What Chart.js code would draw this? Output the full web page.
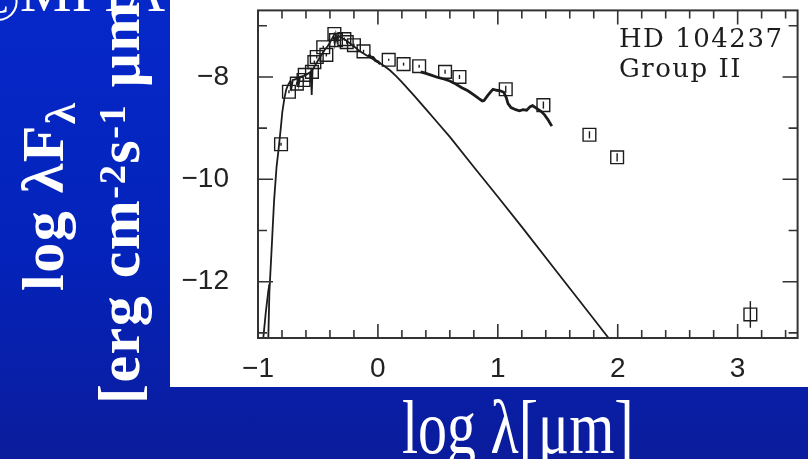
<!DOCTYPE html>
<html>
<head>
<meta charset="utf-8">
<script src="https://cdn.jsdelivr.net/npm/chart.js@4/dist/chart.umd.min.js"></script>
<style>
  html, body { margin: 0; padding: 0; }
  body {
    width: 808px; height: 459px; overflow: hidden; position: relative;
    background: linear-gradient(to bottom, #0628c9 0%, #0423ba 55%, #0b1c9c 100%);
  }
  canvas { position: absolute; left: 0; top: 0; }
  .t { position: absolute; color: #fff; white-space: nowrap; line-height: 1;
       font-family: 'Liberation Serif', 'Times New Roman', serif; }
  .rot { transform-origin: 0 0; transform: rotate(-90deg); font-weight: bold; }
  .sub { font-size: 0.72em; position: relative; top: 0.28em; }
  .sup { font-size: 0.64em; position: relative; top: -0.36em; }
</style>
</head>
<body>
<div class="t" id="credit" style="left:-24px; top:-37px; font-size:58px;"><span style="position:relative; top:9px;">©</span>MPIA</div>
<canvas id="sed" width="808" height="459"></canvas>
<div class="t rot" style="left:13px; top:291px; font-size:60px; letter-spacing:1.5px;">log λF<span class="sub">λ</span></div>
<div class="t rot" style="left:89px; top:404px; font-size:60px; letter-spacing:1.5px;">[erg cm<span class="sup">-2</span>s<span class="sup">-1</span> μm]</div>
<div class="t" style="left:402px; top:405px; font-size:58px; transform-origin:0 47px; transform:scaleY(1.33);">log λ[μm]</div>

<script>
// Stellar photosphere model (log wavelength in micron, log lambda F_lambda)
const photLambda = [-0.915, -0.905, -0.885, -0.866, -0.845, -0.83, -0.81, -0.797, -0.78, -0.765,
  -0.75, -0.73, -0.72, -0.71, -0.69, -0.67, -0.66, -0.65, -0.62, -0.60, -0.58, -0.56, -0.552,
  -0.545, -0.52, -0.50, -0.48, -0.46, -0.44, -0.42, -0.40, -0.385, -0.37, -0.36, -0.35, -0.34,
  -0.33, -0.30, -0.27, -0.24, -0.21, -0.18, -0.15, -0.10, -0.05, 0.0, 0.05, 0.10, 0.15, 0.20,
  0.30, 0.40, 0.50, 0.60, 0.80, 1.00, 1.20, 1.50, 1.80, 2.00];
const photFlux = [-13.2, -12.2, -11.3, -10.42, -9.75, -9.45, -9.0, -8.68, -8.42, -8.25,
  -8.16, -8.08, -8.2, -8.06, -8.05, -8.02, -8.15, -8.0, -7.98, -7.96, -7.93, -7.90, -8.35,
  -7.86, -7.76, -7.68, -7.60, -7.53, -7.46, -7.40, -7.33, -7.26, -7.20, -7.35, -7.18, -7.30,
  -7.20, -7.24, -7.28, -7.33, -7.39, -7.44, -7.50, -7.57, -7.64, -7.71, -7.78, -7.87, -7.98, -8.10,
  -8.36, -8.63, -8.90, -9.17, -9.76, -10.34, -10.93, -11.83, -12.73, -13.33];

// Reddened short-wavelength branch of the model
const spurLambda = [-0.96, -0.935, -0.915, -0.905];
const spurFlux = [-13.2, -12.6, -12.2, -12.05];

// Observed spectra: near-IR piece and ISO SWS spectrum (null separates them)
const specLambda = [-0.08, -0.06, -0.04, -0.02, 0.0, 0.02, null,
  0.357, 0.40, 0.45, 0.50, 0.55, 0.60, 0.65, 0.70, 0.75, 0.80, 0.84, 0.87, 0.885, 0.91, 0.94,
  0.96, 0.99, 1.02, 1.05, 1.07, 1.085, 1.11, 1.15, 1.18, 1.21, 1.24, 1.27, 1.29, 1.32, 1.36,
  1.39, 1.42, 1.45];
const specFlux = [-7.56, -7.61, -7.62, -7.68, -7.70, -7.75, null,
  -7.90, -7.93, -7.97, -8.01, -8.04, -8.08, -8.14, -8.21, -8.27, -8.35, -8.42, -8.47, -8.46, -8.38, -8.29,
  -8.24, -8.26, -8.27, -8.30, -8.40, -8.52, -8.60, -8.64, -8.66, -8.64, -8.65, -8.58, -8.56, -8.61, -8.67,
  -8.74, -8.84, -8.96];

// Photometry with 1-sigma errors (dex)
const obsLambda = [-0.808, -0.742, -0.676, -0.62, -0.61, -0.55, -0.53, -0.51, -0.456, -0.43,
  -0.363, -0.35, -0.28, -0.26, -0.20, -0.12, 0.09, 0.214, 0.344, 0.56, 0.68, 1.066, 1.38,
  1.764, 1.995, 3.106];
const obsFlux = [-9.315, -8.29, -8.13, -8.06, -7.96, -7.90, -7.71, -7.61, -7.42, -7.57,
  -7.16, -7.28, -7.26, -7.32, -7.38, -7.50, -7.665, -7.75, -7.79, -7.90, -8.0, -8.24, -8.55,
  -9.13, -9.57, -12.64];
const obsErr = [0.03, 0.03, 0.03, 0.03, 0.03, 0.03, 0.03, 0.03, 0.03, 0.03,
  0.03, 0.03, 0.03, 0.03, 0.03, 0.03, 0.02, 0.03, 0.03, 0.04, 0.04, 0.07, 0.07,
  0.07, 0.08, 0.26];

const xTickLabels = [-1, 0, 1, 2, 3];
const yTickLabels = [-8, -10, -12];
const starName = 'HD 104237';
const starGroup = 'Group II';

const pts = (xs, ys) => xs.map((x, i) => (x === null ? { x: null, y: null } : { x, y: ys[i] }));
const ink = '#1c1c1c';

const panelPlugin = {
  id: 'panel',
  beforeDraw(chart) {
    const ctx = chart.ctx;
    ctx.save();
    ctx.fillStyle = '#ffffff';
    ctx.fillRect(170, 0, 638, 387);
    ctx.restore();
  }
};

const framePlugin = {
  id: 'frame',
  afterDatasetsDraw(chart) {
    const { ctx, chartArea: a, scales: { x, y } } = chart;
    ctx.save();
    // error bars
    ctx.strokeStyle = ink;
    ctx.lineWidth = 1.4;
    obsLambda.forEach((l, i) => {
      const px = x.getPixelForValue(l);
      ctx.beginPath();
      ctx.moveTo(px, y.getPixelForValue(obsFlux[i] - obsErr[i]));
      ctx.lineTo(px, y.getPixelForValue(obsFlux[i] + obsErr[i]));
      ctx.stroke();
    });
    // box
    ctx.strokeStyle = '#333';
    ctx.lineWidth = 2;
    ctx.strokeRect(a.left, a.top, a.right - a.left, a.bottom - a.top);
    // inward ticks on all four sides
    ctx.lineWidth = 1.6;
    ctx.beginPath();
    for (let k = -50; k <= 175; k += 10) {
      const v = k / 50;
      if (v < x.min || v > x.max) continue;
      const px = x.getPixelForValue(v);
      const len = k % 50 === 0 ? 14 : 8;
      ctx.moveTo(px, a.bottom); ctx.lineTo(px, a.bottom - len);
      ctx.moveTo(px, a.top); ctx.lineTo(px, a.top + len);
    }
    for (let v = -13; v <= -7; v += 1) {
      const py = y.getPixelForValue(v);
      const len = v % 2 === 0 ? 15 : 9;
      ctx.moveTo(a.left, py); ctx.lineTo(a.left + len, py);
      ctx.moveTo(a.right, py); ctx.lineTo(a.right - len, py);
    }
    ctx.stroke();
    // object label
    ctx.fillStyle = ink;
    ctx.font = '26px "DejaVu Serif"';
    ctx.letterSpacing = '1.5px';
    ctx.textBaseline = 'alphabetic';
    ctx.textAlign = 'left';
    ctx.fillText(starName, x.getPixelForValue(2.01), y.getPixelForValue(-7.42));
    ctx.fillText(starGroup, x.getPixelForValue(2.01), y.getPixelForValue(-8.0));
    ctx.restore();
  }
};

const tickFont = { family: 'Liberation Sans', size: 28 };
const minus = v => String(v).replace('-', '\u2212');

new Chart(document.getElementById('sed'), {
  type: 'scatter',
  data: {
    datasets: [
      { data: pts(photLambda, photFlux), showLine: true, pointRadius: 0, borderColor: ink, borderWidth: 1.8, tension: 0 },
      { data: pts(spurLambda, spurFlux), showLine: true, pointRadius: 0, borderColor: ink, borderWidth: 1.8, tension: 0 },
      { data: pts(specLambda, specFlux), showLine: true, spanGaps: false, pointRadius: 0, borderColor: ink, borderWidth: 2.8, tension: 0 },
      { data: pts(obsLambda, obsFlux), showLine: false, pointStyle: 'rect', pointRadius: 9,
        borderColor: ink, borderWidth: 1.4, backgroundColor: 'rgba(0,0,0,0)' }
    ]
  },
  options: {
    responsive: false,
    animation: false,
    devicePixelRatio: 1,
    layout: { padding: { left: 170, top: 7, right: 5, bottom: 0 } },
    plugins: { legend: { display: false }, tooltip: { enabled: false } },
    scales: {
      x: {
        type: 'linear', min: -1, max: 3.5,
        grid: { display: false }, border: { display: false },
        afterBuildTicks: s => { s.ticks = xTickLabels.map(v => ({ value: v })); },
        afterFit: s => { s.height = 121; s.paddingLeft = 0; s.paddingRight = 0; },
        ticks: { font: tickFont, color: '#222', padding: 6, maxRotation: 0, autoSkip: false, callback: minus }
      },
      y: {
        type: 'linear', min: -13.1, max: -6.7,
        grid: { display: false }, border: { display: false },
        afterBuildTicks: s => { s.ticks = yTickLabels.map(v => ({ value: v })); },
        afterFit: s => { s.width = 88; s.paddingTop = 0; s.paddingBottom = 0; },
        ticks: { font: tickFont, color: '#222', padding: 21, autoSkip: false, callback: minus }
      }
    }
  },
  plugins: [panelPlugin, framePlugin]
});
</script>
</body>
</html>
